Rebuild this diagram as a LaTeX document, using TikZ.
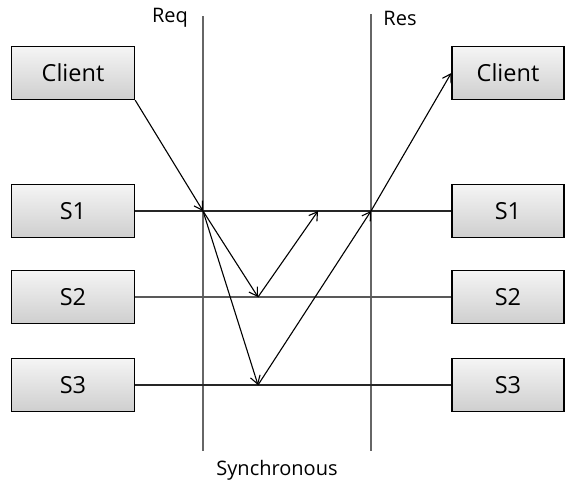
\documentclass[tikz,border=0pt]{standalone}
\usepackage{fontspec}
\setmainfont{Open Sans}
\usetikzlibrary{arrows.meta}
\begin{document}
\begin{tikzpicture}[x=1pt,y=-1pt,
  box/.style={draw=black,line width=1.4pt,top color=gray!8,bottom color=gray!38,minimum height=53pt,inner sep=0pt,font=\fontsize{23.5}{28}\selectfont},
  lbox/.style={box,minimum width=123pt},
  rbox/.style={box,minimum width=112pt},
  axis/.style={draw=gray!80!black,line width=2pt},
  hline/.style={draw=black!85,line width=1.6pt},
  arr/.style={draw=black,line width=1.1pt,-{Straight Barb[length=8pt,width=10pt]}},
  lbl/.style={font=\fontsize{20}{24}\selectfont}]
\useasboundingbox (0,0) rectangle (576,498);
\fill[white] (0,0) rectangle (576,498);
% boxes
\node[lbox] (lc) at (73,73) {Client};
\node[lbox] (l1) at (73,211) {S1};
\node[lbox] (l2) at (73,297) {S2};
\node[lbox] (l3) at (73,385) {S3};
\node[rbox] (rc) at (508,73) {Client};
\node[rbox] (r1) at (508,211) {S1};
\node[rbox] (r2) at (508,297) {S2};
\node[rbox] (r3) at (508,385) {S3};
% vertical lines
\coordinate (reqT) at (203,16);
\coordinate (reqB) at (203,451);
\coordinate (resT) at (371,14);
\coordinate (resB) at (371,451);
\draw[axis] (reqT) -- (reqB);
\draw[axis] (resT) -- (resB);
\node[lbl] (req) at (170,18) {Req};
\node[lbl] (res) at (400,18) {Res};
\node[lbl] (sync) at (277,470) {Synchronous};
% horizontal lines
\draw[hline] (l1.east) -- (r1.west);
\draw[hline,draw=black!65] (l2.east) -- (r2.west);
\draw[hline] (l3.east) -- (r3.west);
% junction points
\coordinate (a) at (203,211);
\coordinate (b) at (258,297);
\coordinate (c) at (258,385);
\coordinate (d) at (318,211);
\coordinate (e) at (371,211);
% arrows
\draw[arr] (lc.south east) -- (a);
\draw[arr] (a) -- (b);
\draw[arr] (a) -- (c);
\draw[arr] (b) -- (d);
\draw[arr] (c) -- (e);
\draw[arr] (e) -- (rc.west);
\end{tikzpicture}
\end{document}
